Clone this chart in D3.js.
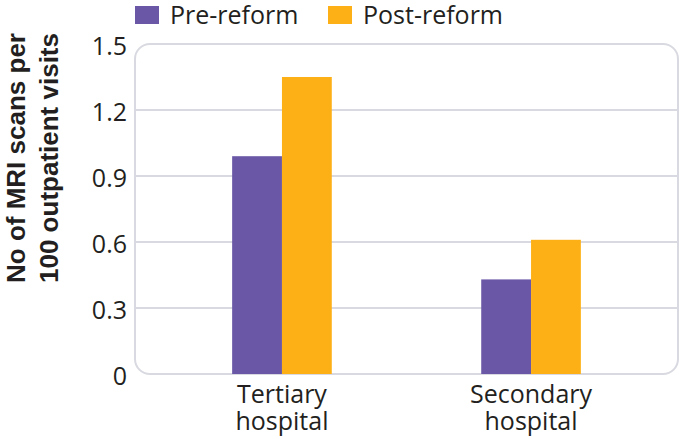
<!DOCTYPE html>
<html>
<head>
<meta charset="utf-8">
<script src="https://cdn.jsdelivr.net/npm/d3@7"></script>
<style>
  body { margin: 0; background: #fff; }
  svg { display: block; }
  text { font-family: "Open Sans", sans-serif; fill: #231f20; }
</style>
</head>
<body>
<div id="chart"></div>
<script>
// chart data
var categories = ["Tertiary hospital", "Secondary hospital"];
var seriesNames = ["Pre-reform", "Post-reform"];
var preReform = [0.99, 0.43];
var postReform = [1.35, 0.61];
var yTicks = [0, 0.3, 0.6, 0.9, 1.2, 1.5];
var yTickLabels = ["0", "0.3", "0.6", "0.9", "1.2", "1.5"];
var yTitle = ["No of MRI scans per", "100 outpatient visits"];

var colors = d3.scaleOrdinal()
    .domain(seriesNames)
    .range(["#6a58a6", "#fdb016"]);

var width = 679, height = 439;
// plot frame edges (don't call these top/left: window.top is read only)
var plotL = 135, plotR = 678, plotT = 44, plotB = 374;

var svg = d3.select("#chart")
    .append("svg")
    .attr("width", width)
    .attr("height", height);

var y = d3.scaleLinear().domain([0, 1.5]).range([plotB, plotT]);

var x = d3.scaleBand()
    .domain(categories)
    .range([plotL, plotR])
    .paddingInner(0.6)
    .paddingOuter(0.39);

var xSub = d3.scaleBand()
    .domain(seriesNames)
    .range([0, x.bandwidth()]);

// frame
svg.append("rect")
    .attr("x", plotL)
    .attr("y", plotT)
    .attr("width", plotR - plotL)
    .attr("height", plotB - plotT)
    .attr("rx", 15)
    .style("fill", "none")
    .style("stroke", "#d9dae1")
    .style("stroke-width", 2);

// gridlines (inner ones only, frame covers 0 and 1.5)
svg.selectAll("line.grid")
    .data(yTicks.filter(function(d) { return d > 0 && d < 1.5; }))
    .enter()
    .append("line")
    .attr("class", "grid")
    .attr("x1", plotL)
    .attr("x2", plotR)
    .attr("y1", function(d) { return y(d); })
    .attr("y2", function(d) { return y(d); })
    .style("stroke", "#d9dae1")
    .style("stroke-width", 2);

// y tick labels
svg.selectAll("text.ytick")
    .data(yTicks)
    .enter()
    .append("text")
    .attr("class", "ytick")
    .attr("x", 127)
    .attr("y", function(d) { return y(d); })
    .attr("dy", "0.44em")
    .attr("text-anchor", "end")
    .style("font-size", "25px")
    .text(function(d, i) { return yTickLabels[i]; });

// bars
var rows = categories.map(function(c, i) {
    return { category: c, values: [
        { series: seriesNames[0], value: preReform[i] },
        { series: seriesNames[1], value: postReform[i] }
    ] };
});

var groups = svg.selectAll("g.group")
    .data(rows)
    .enter()
    .append("g")
    .attr("class", "group")
    .attr("transform", function(d) { return "translate(" + x(d.category) + ",0)"; });

groups.selectAll("rect")
    .data(function(d) { return d.values; })
    .enter()
    .append("rect")
    .attr("x", function(d) { return xSub(d.series); })
    .attr("width", xSub.bandwidth())
    .attr("y", function(d) { return y(d.value); })
    .attr("height", function(d) { return y(0) - y(d.value); })
    .style("fill", function(d) { return colors(d.series); });

// category labels, two lines each
var catText = svg.selectAll("text.cat")
    .data(categories)
    .enter()
    .append("text")
    .attr("class", "cat")
    .attr("text-anchor", "middle")
    .style("font-size", "25px");

catText.selectAll("tspan")
    .data(function(d) { return d.split(" ").map(function(w) { return { cat: d, word: w }; }); })
    .enter()
    .append("tspan")
    .attr("x", function(d) { return x(d.cat) + x.bandwidth() / 2; })
    .attr("y", function(d, i) { return 403 + i * 27; })
    .text(function(d) { return d.word; });

// y axis title
var titleG = svg.append("g")
    .attr("transform", "translate(0," + 158 + ") rotate(-90)");

titleG.selectAll("text")
    .data(yTitle)
    .enter()
    .append("text")
    .attr("x", 0)
    .attr("y", function(d, i) { return 25 + i * 33; })
    .attr("text-anchor", "middle")
    .style("font-family", "'Liberation Sans', Arial, sans-serif")
    .style("font-weight", "bold")
    .style("font-size", "26px")
    .text(function(d) { return d; });

// legend
var legendX = [135, 328];
var legend = svg.selectAll("g.legend")
    .data(seriesNames)
    .enter()
    .append("g")
    .attr("class", "legend")
    .attr("transform", function(d, i) { return "translate(" + legendX[i] + ",0)"; });

legend.append("rect")
    .attr("x", 0)
    .attr("y", 6)
    .attr("width", 24)
    .attr("height", 18)
    .style("fill", function(d) { return colors(d); });

legend.append("text")
    .attr("x", 35)
    .attr("y", 24)
    .style("font-size", "25px")
    .text(function(d) { return d; });
</script>
</body>
</html>
